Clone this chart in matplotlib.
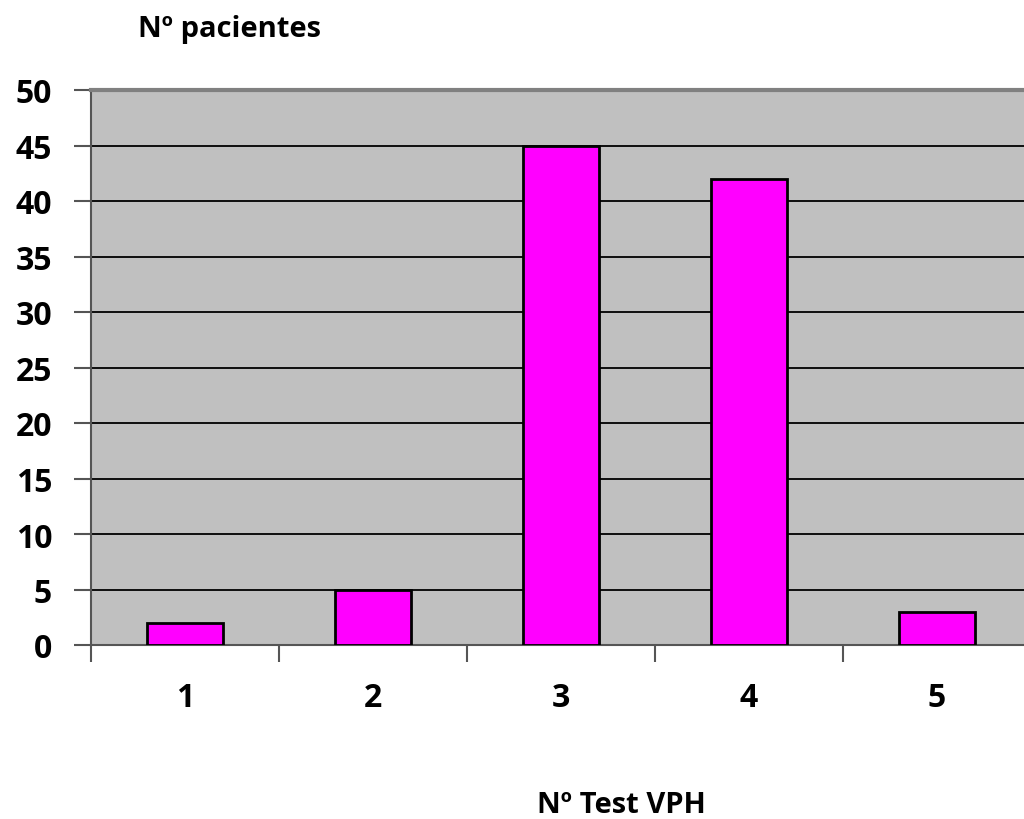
import numpy as np
import matplotlib.pyplot as plt

# data
categories = ['1', '2', '3', '4', '5']
pacientes = [2, 5, 45, 42, 3]
yticks = [0, 5, 10, 15, 20, 25, 30, 35, 40, 45, 50]

plt.rcParams['font.family'] = ['Open Sans', 'DejaVu Sans']

fig = plt.figure(figsize=(10.24, 8.2), dpi=100)
# plot area runs past the right edge like in the original
ax = fig.add_axes([91 / 1024, 1 - 646 / 820, 940 / 1024, 555 / 820])
ax.set_facecolor('#C0C0C0')

x = np.arange(len(categories))
ax.bar(x, pacientes, width=0.4, color='#FF00FF', edgecolor='black', linewidth=2, zorder=3)

ax.set_xlim(-0.5, len(categories) - 0.5)
ax.set_ylim(0, 50)
ax.set_yticks(yticks)
ax.set_yticklabels([str(v) for v in yticks], fontsize=23, fontweight='bold')
ax.set_xticks(x)
ax.set_xticklabels(categories, fontsize=23, fontweight='bold')
ax.tick_params(axis='x', length=0, pad=26)
ax.set_xticks(np.arange(-0.5, len(categories)), minor=True)
ax.tick_params(axis='x', which='minor', length=12, width=1.5, color='#555555', direction='out')
ax.tick_params(axis='y', length=12, width=1.5, color='#555555', direction='out', pad=16)

ax.grid(axis='y', color='black', linewidth=1.3, zorder=1)
for s in ['left', 'bottom']:
    ax.spines[s].set_color('#555555')
    ax.spines[s].set_linewidth(1.5)
ax.spines['top'].set_color('#808080')
ax.spines['top'].set_linewidth(3)
ax.spines['right'].set_visible(False)

fig.text(138 / 1024, 1 - 37 / 820, 'Nº pacientes', fontsize=21, fontweight='bold', va='baseline', ha='left')
fig.text(621 / 1024, 1 - 813 / 820, 'Nº Test VPH', fontsize=21, fontweight='bold', va='baseline', ha='center')

fig.savefig('out.png', dpi=100)
